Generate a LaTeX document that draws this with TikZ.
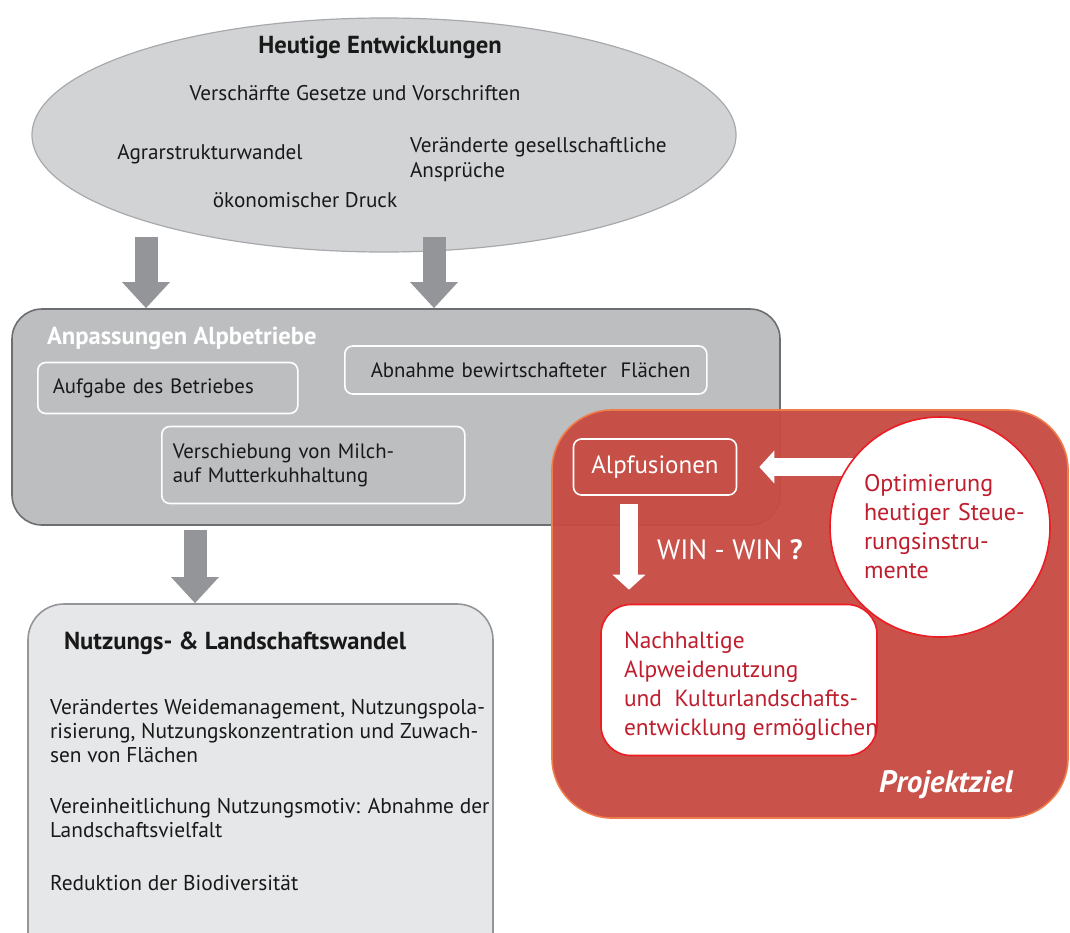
\documentclass[tikz,border=0pt]{standalone}
\usepackage{fontspec}
\setmainfont{PT Sans}
\usetikzlibrary{arrows.meta,shapes.geometric}

\definecolor{ellgrey}{HTML}{D1D3D4}
\definecolor{ellline}{HTML}{A7A9AC}
\definecolor{arrowgrey}{HTML}{939598}
\definecolor{boxgrey}{HTML}{BCBEC0}
\definecolor{boxline}{HTML}{6D6E71}
\definecolor{lightgrey}{HTML}{E6E7E8}
\definecolor{projred}{HTML}{C74B43}
\definecolor{projline}{HTML}{F07C4A}
\definecolor{zielred}{HTML}{ED1C24}
\definecolor{darkred}{HTML}{BE1E2D}

\begin{document}
\begin{tikzpicture}[x=0.5pt, y=-0.5pt
        , every node/.style={ font=\fontsize{10.4}{12}\selectfont, text=black!90 }
        , greyarrow/.style={ draw=arrowgrey, line width=11.5pt, -{Triangle[length=13pt,width=23pt]} }
        , whitearrow/.style={ draw=white, line width=9pt, -{Triangle[length=7.5pt,width=16pt]} }
        , smallbox/.style={ draw=white, line width=0.8pt, rounded corners=4pt, align=left, anchor=west }
        , headline/.style={ font=\bfseries\fontsize{12.3}{14}\selectfont }
        , elltext/.style={ font=\fontsize{10.6}{12.5}\selectfont }
        , redtext/.style={ text=darkred, font=\fontsize{12}{14.5}\selectfont, align=left }
        ]

        \useasboundingbox (0,0) rectangle (1070,932);
        \clip (0,0) rectangle (1070,932);

        % Heutige Entwicklungen
        \node[ellipse, draw=ellline, fill=ellgrey, line width=0.6pt, inner sep=0pt
            , minimum width=352pt, minimum height=117pt] (heute) at (384,135) {};
        \node[headline] (titel) at (380,47) {Heutige Entwicklungen};
        \node[elltext] (gesetze) at (355,93) {Verschärfte Gesetze und Vorschriften};
        \node[elltext] (agrar) at (210,154) {Agrarstrukturwandel};
        \node[elltext, anchor=west, align=left] (gesell) at (403,160) {Veränderte gesellschaftliche\\Ansprüche};
        \node[elltext] (oekon) at (305,200) {ökonomischer Druck};

        % Anpassungen Alpbetriebe
        \node[draw=boxline, fill=boxgrey, line width=0.8pt, rounded corners=15pt
            , minimum width=384pt, minimum height=108pt] (anp) at (396,417) {};
        \node[headline, anchor=west, text=white] (anptitel) at (40,338) {Anpassungen Alpbetriebe};
        \node[smallbox, text width=115pt, inner xsep=7.5pt, minimum height=25.5pt]
            (aufgabe) at (37,388) {Aufgabe des Betriebes};
        \node[smallbox, text width=155pt, inner xsep=13pt, minimum height=24pt]
            (abnahme) at (344,370) {\mbox{Abnahme bewirtschafteter\ \ Flächen}};
        \node[smallbox, text width=140.5pt, inner xsep=5.5pt, minimum height=38.5pt]
            (milch) at (161,465) {Verschiebung von Milch-\\auf Mutterkuhhaltung};

        \foreach \x/\n in {146/1, 434/2} {
            \coordinate (g\n) at (\x,237);
            \draw[greyarrow] (g\n) -- (g\n |- anp.north);
        }

        % Nutzungs- & Landschaftswandel
        \node[draw=arrowgrey, fill=lightgrey, line width=0.8pt, rounded corners=18pt
            , minimum width=232.5pt, minimum height=183pt] (wandel) at (260.5,787) {};
        \node[headline, anchor=west] (wtitel) at (57,643) {Nutzungs- \& Landschaftswandel};
        \node[anchor=west, align=left, font=\fontsize{10.7}{12}\selectfont] (wtext) at (43,795)
            {Verändertes Weidemanagement, Nutzungspola-\\
             risierung, Nutzungskonzentration und Zuwach-\\
             sen von Flächen\\[13.5pt]
             Vereinheitlichung Nutzungsmotiv: Abnahme der\\
             Landschaftsvielfalt\\[14.5pt]
             Reduktion der Biodiversität};

        \coordinate (g3) at (195,530);
        \draw[greyarrow] (g3) -- (g3 |- wandel.north);

        % Projektziel
        \node[draw=projline, fill=projred, fill opacity=0.96, line width=0.8pt, rounded corners=30pt
            , minimum width=258pt, minimum height=204pt] (proj) at (810,614) {};
        \node[draw=white, line width=0.8pt, rounded corners=4pt, text=white
            , font=\fontsize{12.5}{14}\selectfont
            , minimum width=81.5pt, minimum height=28pt] (alp) at (655,467) {Alpfusionen};
        \node[anchor=west, text=white, font=\fontsize{14}{16}\selectfont] (win) at (650,550)
            {WIN - WIN \textbf{?}};
        \node[draw=zielred, fill=white, line width=0.8pt, rounded corners=15pt
            , minimum width=138pt, minimum height=75.5pt] (zielbox) at (739,680) {};
        \node[redtext, anchor=west, font=\fontsize{11.7}{14.5}\selectfont] (ziel) at (617,686)
            {Nachhaltige\\Alpweidenutzung\\und\ \ Kulturlandschafts-\\entwicklung ermöglichen};

        \coordinate (optc) at (940,527);
        \coordinate (w1) at (629,504);
        \draw[whitearrow] (optc |- alp.east) -- ([xshift=11pt]alp.east);
        \draw[whitearrow, shorten >=7pt] (w1) -- (w1 |- zielbox.north);

        \node[circle, draw=zielred, fill=white, line width=0.8pt, minimum size=110pt
            , text width=76pt, redtext] (opt) at (optc)
            {Optimierung\\\mbox{heutiger Steue-}\\rungsinstru-\\mente};

        \node[anchor=east, text=white, font=\bfseries\itshape\fontsize{15.5}{17}\selectfont]
            (projlabel) at (1020,785) {Projektziel};

    \end{tikzpicture}
\end{document}
